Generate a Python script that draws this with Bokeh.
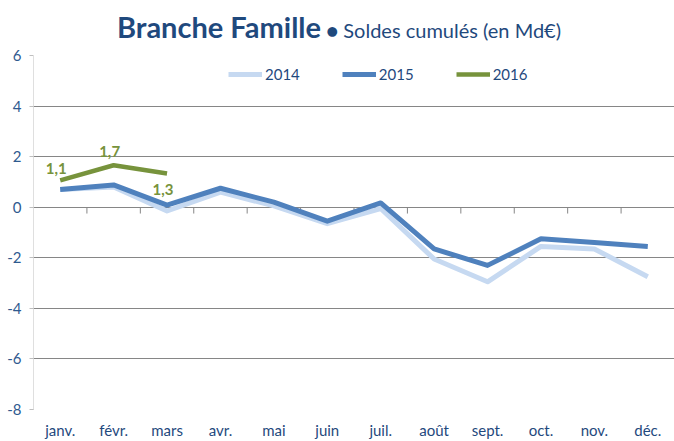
from bokeh.plotting import figure
from bokeh.models import Range1d, FixedTicker, Legend, LegendItem, ColumnDataSource, Div
from bokeh.layouts import column
from bokeh.core.properties import value
from bokeh.embed import file_html
from bokeh.resources import INLINE

months = ["janv.", "févr.", "mars", "avr.", "mai", "juin", "juil.", "août", "sept.", "oct.", "nov.", "déc."]
s2014 = [0.70, 0.80, -0.15, 0.60, 0.05, -0.65, -0.05, -2.05, -2.95, -1.55, -1.65, -2.75]
s2015 = [0.70, 0.88, 0.08, 0.75, 0.20, -0.55, 0.17, -1.65, -2.30, -1.25, -1.40, -1.55]
s2016 = [1.06, 1.66, 1.33]
yticks = [6, 4, 2, 0, -2, -4, -6, -8]

FONT = "Lato"
DARK = "#1F497D"
AXBLUE = "#2F5A8F"

x = list(range(len(months)))

TITLE_H = 40

title = Div(text=('<div style="width:674px;text-align:center;white-space:nowrap;'
                  'font-family:Lato;color:%s;padding-left:4px;">'
                  '<span style="font-weight:bold;font-size:29px;">Branche Famille</span>'
                  '<span style="font-size:20px;"> \u25cf Soldes cumulés (en Md€)</span></div>') % DARK,
            width=674, height=TITLE_H, margin=(0, 0, 0, 0),
            styles={"padding-top": "6px"})

p = figure(width=674, height=441 - TITLE_H, output_backend="svg", toolbar_location=None,
           x_range=Range1d(-0.5, len(months) - 0.5), y_range=Range1d(min(yticks), max(yticks)),
           min_border_left=33, min_border_right=0, min_border_top=55 - TITLE_H, min_border_bottom=20,
           outline_line_color=None, background_fill_color="white", border_fill_color="white",
           margin=(0, 0, 0, 0))

# grid
p.xgrid.grid_line_color = None
p.ygrid.ticker = FixedTicker(ticks=yticks)
p.ygrid.grid_line_color = "#868686"
p.ygrid.grid_line_width = 1

# y axis
p.yaxis.ticker = FixedTicker(ticks=yticks)
p.yaxis.major_label_overrides = {v: str(v) for v in yticks}
p.yaxis.axis_line_color = "#BFBFBF"
p.yaxis.axis_line_dash = "1 1"
p.yaxis.major_tick_line_color = "#BFBFBF"
p.yaxis.major_tick_out = 4
p.yaxis.major_tick_in = 0
p.yaxis.minor_tick_line_color = None
p.yaxis.major_label_text_font = FONT
p.yaxis.major_label_text_font_size = "15px"
p.yaxis.major_label_text_color = AXBLUE
p.yaxis.major_label_standoff = 8

# x axis
p.xaxis.ticker = FixedTicker(ticks=x)
p.xaxis.major_label_overrides = {i: m for i, m in enumerate(months)}
p.xaxis.axis_line_color = None
p.xaxis.major_tick_line_color = None
p.xaxis.minor_tick_line_color = None
p.xaxis.major_label_text_font = FONT
p.xaxis.major_label_text_font_size = "15px"
p.xaxis.major_label_text_color = DARK
p.xaxis.major_label_standoff = 5

# category tick marks hanging from the zero line
bounds = [i + 0.5 for i in range(len(months) - 1)] + [len(months) - 0.5]
p.segment(x0=bounds, x1=bounds, y0=[0] * len(bounds), y1=[-0.25] * len(bounds),
          line_color="#868686", line_width=1)

r14 = p.line(x, s2014, line_color="#C6D9F1", line_width=5, line_join="round")
r15 = p.line(x, s2015, line_color="#4F81BD", line_width=5, line_join="round")
r16 = p.line(x[:len(s2016)], s2016, line_color="#77933C", line_width=4.5, line_join="round")

# data labels for 2016
lab = ColumnDataSource(dict(
    x=x[:len(s2016)], y=s2016,
    t=[("%.1f" % v).replace(".", ",") for v in s2016],
    base=["bottom", "bottom", "top"],
    yo=[-6, -8, 10],
))
p.text(x="x", y="y", text="t", source=lab, text_font=value(FONT), text_font_style="bold",
       text_font_size="15px", text_color="#77933C", text_align="center",
       text_baseline="base", y_offset="yo", x_offset=-4)

legend = Legend(items=[LegendItem(label="2014", renderers=[r14]),
                       LegendItem(label="2015", renderers=[r15]),
                       LegendItem(label="2016", renderers=[r16])],
                orientation="horizontal", location=(195, 325),
                background_fill_alpha=0, border_line_color=None,
                glyph_width=34, glyph_height=20, label_standoff=3, spacing=42,
                padding=0, margin=0,
                label_text_font=FONT, label_text_font_size="15px", label_text_color=DARK)
p.add_layout(legend, "center")

layout = column(title, p, spacing=0, margin=(0, 0, 0, 0))
open("out.html", "w").write(file_html(layout, INLINE))
